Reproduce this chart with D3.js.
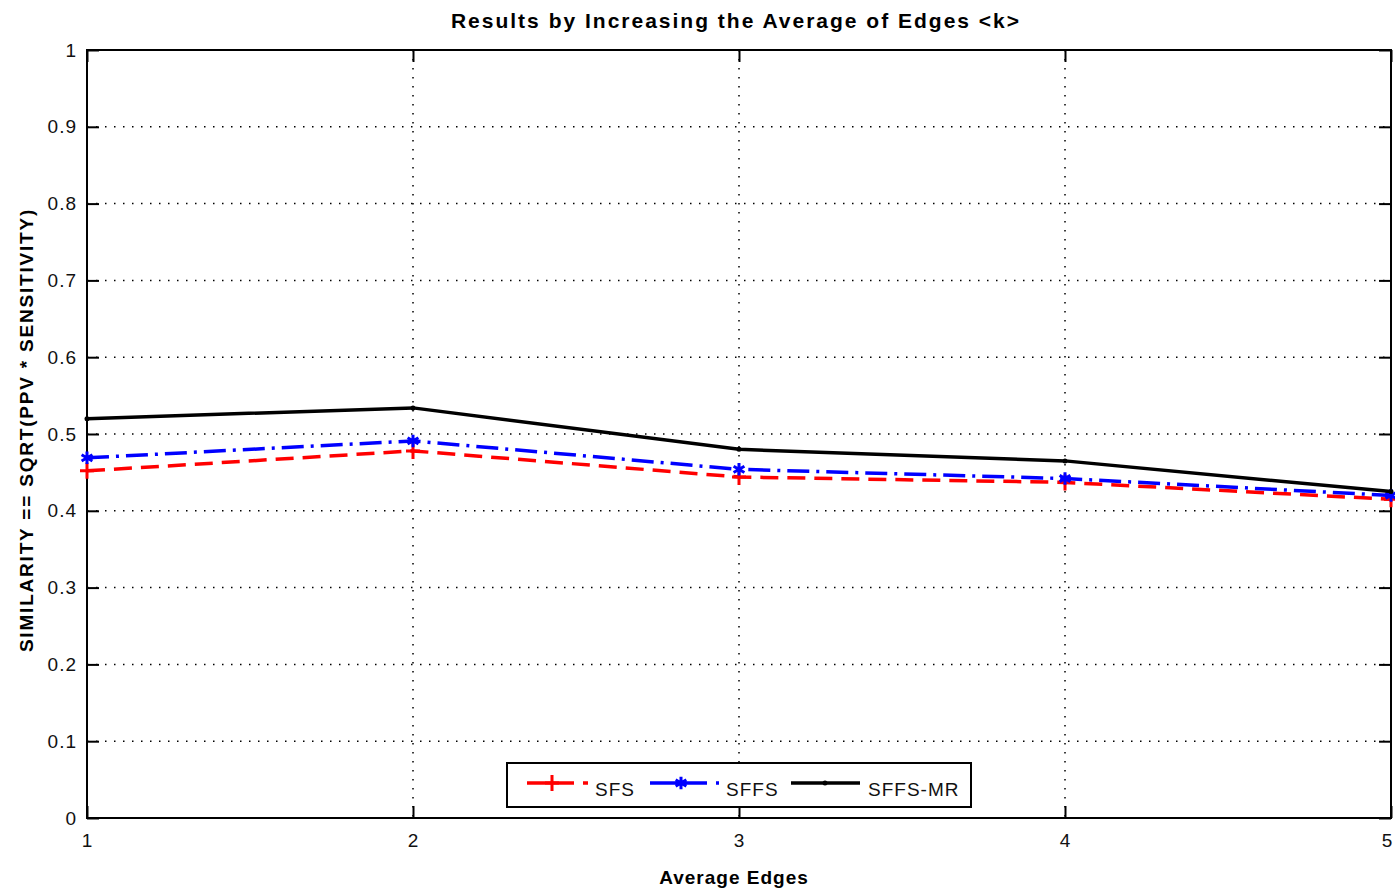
<!DOCTYPE html>
<html>
<head>
<meta charset="utf-8">
<script src="https://cdn.jsdelivr.net/npm/d3@7"></script>
<style>
  body { margin: 0; background: #fff; }
  svg { display: block; font-family: "Liberation Sans", Arial, sans-serif; }
</style>
</head>
<body>
<script>
const xValues = [1, 2, 3, 4, 5];
const sfs = [0.452, 0.478, 0.444, 0.437, 0.415];
const sffs = [0.469, 0.491, 0.454, 0.442, 0.420];
const sffsMr = [0.520, 0.534, 0.480, 0.465, 0.425];
const yTicks = [0, 0.1, 0.2, 0.3, 0.4, 0.5, 0.6, 0.7, 0.8, 0.9, 1];
const seriesNames = ["SFS", "SFFS", "SFFS-MR"];

const w = 1395;
const h = 888;
const plotLeft = 87, plotRight = 1391, plotTop = 50, plotBottom = 818;

const svg = d3.select("body")
              .append("svg")
              .attr("width", w)
              .attr("height", h)

const x = d3.scaleLinear()
            .domain([1, 5])
            .range([plotLeft, plotRight])

const y = d3.scaleLinear()
            .domain([0, 1])
            .range([plotBottom, plotTop])

// grid
svg.append("g")
   .selectAll("line")
   .data(yTicks.slice(1, -1))
   .enter()
   .append("line")
   .attr("x1", plotLeft)
   .attr("x2", plotRight)
   .attr("y1", d => y(d))
   .attr("y2", d => y(d))
   .attr("stroke", "#000")
   .attr("stroke-width", 1.5)
   .attr("stroke-dasharray", "1.5 7.5")

svg.append("g")
   .selectAll("line")
   .data(xValues.slice(1, -1))
   .enter()
   .append("line")
   .attr("x1", d => x(d))
   .attr("x2", d => x(d))
   .attr("y1", plotTop)
   .attr("y2", plotBottom)
   .attr("stroke", "#000")
   .attr("stroke-width", 1.5)
   .attr("stroke-dasharray", "1.5 7.5")

// axes (inward ticks on all four sides)
const yAxis = d3.axisLeft(y).tickValues(yTicks).tickSize(-12).tickPadding(10)
                .tickFormat(d => d3.format("~g")(d));
const yAxisR = d3.axisRight(y).tickValues(yTicks).tickSize(-12).tickFormat("");
const xAxis = d3.axisBottom(x).tickValues(xValues).tickSize(-12).tickPadding(16)
                .tickFormat(d3.format("d"));
const xAxisT = d3.axisTop(x).tickValues(xValues).tickSize(-12).tickFormat("");

function styleAxis(g) {
  g.select(".domain").remove();
  g.selectAll(".tick line").attr("stroke", "#000").attr("stroke-width", 2);
  g.selectAll(".tick text")
   .attr("fill", "#111")
   .style("font-size", "19px")
   .style("letter-spacing", "1px");
}

svg.append("g").attr("transform", "translate(" + plotLeft + ",0)").call(yAxis).call(styleAxis);
svg.append("g").attr("transform", "translate(" + plotRight + ",0)").call(yAxisR).call(styleAxis);
svg.append("g").attr("transform", "translate(0," + plotBottom + ")").call(xAxis).call(styleAxis)
   .selectAll(".tick text").filter(d => d === 5).attr("dx", -4);
svg.append("g").attr("transform", "translate(0," + plotTop + ")").call(xAxisT).call(styleAxis);

svg.append("rect")
   .attr("x", plotLeft)
   .attr("y", plotTop)
   .attr("width", plotRight - plotLeft)
   .attr("height", plotBottom - plotTop)
   .attr("fill", "none")
   .attr("stroke", "#000")
   .attr("stroke-width", 2)

// series
const series = [
  { name: seriesNames[0], values: sfs, color: "#ff0000", dash: "18 9", marker: "plus" },
  { name: seriesNames[1], values: sffs, color: "#0000ff", dash: "22 7 3 7", marker: "star" },
  { name: seriesNames[2], values: sffsMr, color: "#000000", dash: null, marker: "dot" }
];

const line = d3.line()
               .x((d, i) => x(xValues[i]))
               .y(d => y(d))

function drawMarker(g, kind, color, cx, cy) {
  if (kind === "plus") {
    g.append("path")
     .attr("d", `M${cx - 7},${cy}H${cx + 7}M${cx},${cy - 8}V${cy + 8}`)
     .attr("stroke", color).attr("stroke-width", 3)
  } else if (kind === "star") {
    g.append("path")
     .attr("d", d3.symbol().type(d3.symbolAsterisk).size(110)())
     .attr("transform", `translate(${cx},${cy})`)
     .attr("stroke", color).attr("stroke-width", 3)
  } else {
    g.append("circle")
     .attr("cx", cx).attr("cy", cy).attr("r", 2.5)
     .attr("fill", color)
  }
}

series.forEach(s => {
  const g = svg.append("g")
  g.append("path")
   .datum(s.values)
   .attr("d", line)
   .attr("fill", "none")
   .attr("stroke", s.color)
   .attr("stroke-width", 3.5)
   .attr("stroke-dasharray", s.dash)
  s.values.forEach((v, i) => drawMarker(g, s.marker, s.color, x(xValues[i]), y(v)))
})

// legend
const legend = svg.append("g").attr("id", "legend")
legend.append("rect")
      .attr("x", 507)
      .attr("y", 763)
      .attr("width", 464)
      .attr("height", 44)
      .attr("fill", "#fff")
      .attr("stroke", "#000")
      .attr("stroke-width", 2)

const legendPos = [
  { x1: 527, x2: 589, mx: 552, tx: 595 },
  { x1: 650, x2: 719, mx: 681, tx: 726 },
  { x1: 791, x2: 860, mx: 825, tx: 868 }
];

series.forEach((s, i) => {
  const p = legendPos[i];
  const ly = 783;
  legend.append("line")
        .attr("x1", p.x1).attr("x2", p.x2)
        .attr("y1", ly).attr("y2", ly)
        .attr("stroke", s.color)
        .attr("stroke-width", 3.5)
        .attr("stroke-dasharray", i === 0 ? "47 9 5 20" : i === 1 ? "57 9 3 20" : null)
  drawMarker(legend, s.marker, s.color, p.mx, ly)
  legend.append("text")
        .attr("x", p.tx)
        .attr("y", ly + 13)
        .style("font-size", "19px")
        .style("letter-spacing", "1px")
        .attr("fill", "#111")
        .text(s.name)
})

// titles
svg.append("text")
   .attr("x", 736)
   .attr("y", 28)
   .attr("text-anchor", "middle")
   .style("font-size", "21px")
   .style("font-weight", "bold")
   .style("letter-spacing", "2px")
   .text("Results by Increasing the Average of Edges <k>")

svg.append("text")
   .attr("x", 734)
   .attr("y", 884)
   .attr("text-anchor", "middle")
   .style("font-size", "19px")
   .style("font-weight", "bold")
   .style("letter-spacing", "1px")
   .text("Average Edges")

svg.append("text")
   .attr("transform", "translate(33,430) rotate(-90)")
   .attr("text-anchor", "middle")
   .style("font-size", "19px")
   .style("font-weight", "bold")
   .style("letter-spacing", "1.8px")
   .text("SIMILARITY == SQRT(PPV * SENSITIVITY)")
</script>
</body>
</html>
